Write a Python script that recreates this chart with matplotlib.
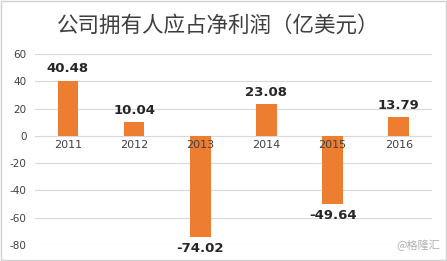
import matplotlib.pyplot as plt
import numpy as np

plt.rcParams['font.family'] = ['Noto Sans CJK SC', 'DejaVu Sans']

years = ['2011', '2012', '2013', '2014', '2015', '2016']
profits = [40.48, 10.04, -74.02, 23.08, -49.64, 13.79]
yticks = [60, 40, 20, 0, -20, -40, -60, -80]

fig = plt.figure(figsize=(4.47, 2.61), dpi=100)
fig.patch.set_facecolor('white')
ax = fig.add_axes([0.078, 0.061, 0.888, 0.732])

x = np.arange(len(years))
ax.bar(x, profits, width=0.31, color='#ED7D31', zorder=3)

ax.set_ylim(-80, 60)
ax.set_xlim(-0.5, len(years) - 0.5)
ax.set_yticks(yticks)
ax.set_yticklabels([str(v) for v in yticks], fontsize=7.5, color='#404040', family='DejaVu Sans')
ax.set_xticks([])
ax.grid(axis='y', color='#d9d9d9', linewidth=0.8, zorder=0)
ax.tick_params(axis='y', length=0, pad=6)
for s in ax.spines.values():
    s.set_visible(False)

for i, v in enumerate(profits):
    if v >= 0:
        ax.text(i, v + 4, '%.2f' % v, ha='center', va='bottom', fontsize=9.5,
                fontweight='bold', color='#262626', family='DejaVu Sans')
    else:
        ax.text(i, v - 4, '%.2f' % v, ha='center', va='top', fontsize=9.5,
                fontweight='bold', color='#262626', family='DejaVu Sans', clip_on=False)
    ax.text(i, -3, years[i], ha='center', va='top', fontsize=8, color='#404040',
            family='DejaVu Sans', zorder=4)

title = fig.text(0.487, 0.903, '公司拥有人应占净利润（亿美元）', ha='center', va='center',
                 fontsize=15.5, color='#3f3f3f')
fig.text(0.985, 0.06, '@格隆汇', ha='right', va='center', fontsize=8, color='#b0b0b0')

border = plt.Rectangle((0.003, 0.005), 0.994, 0.99, transform=fig.transFigure,
                       fill=False, edgecolor='#d0d0d0', linewidth=1)
fig.patches.append(border)

fig.savefig('out.png', dpi=100)
